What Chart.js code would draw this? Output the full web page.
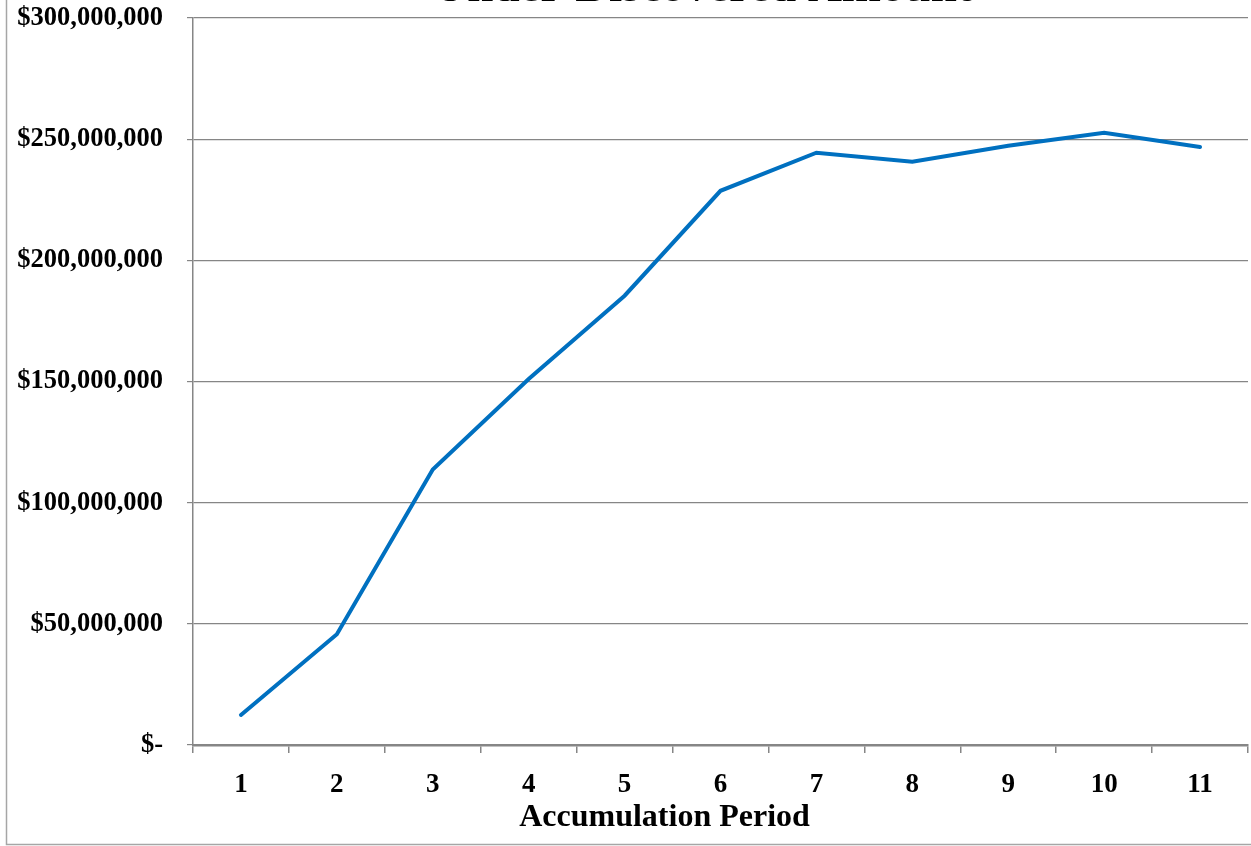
<!DOCTYPE html>
<html>
<head>
<meta charset="utf-8">
<title>Under-Discovered Amount</title>
<script src="https://cdn.jsdelivr.net/npm/chart.js@4/dist/chart.umd.min.js"></script>
<style>
  html, body { margin: 0; padding: 0; background: #ffffff; overflow: hidden; }
  #wrap { position: absolute; left: 0; top: -60px; width: 1251px; height: 906px; }
</style>
</head>
<body>
<div id="wrap"><canvas id="chart"></canvas></div>
<script>
// Accumulation periods and the under-discovered dollar amount for each
const periods = ['1', '2', '3', '4', '5', '6', '7', '8', '9', '10', '11'];
const amounts = [12400000, 45700000, 113700000, 151000000, 185400000, 228700000,
                 244400000, 240700000, 247300000, 252600000, 246800000];

const chartTitle = 'Under-Discovered Amount';
const xAxisTitle = 'Accumulation Period';
const yMin = 0;
const yMax = 300000000;
const yStep = 50000000;

const serif = "'Liberation Serif', 'Times New Roman', serif";
const axisGray = '#868686';

// Trailing spaces nudge centred titles left of the plot-area centre
const nbsp = (n) => '\u00a0'.repeat(n);
const enSp = (n) => '\u2002'.repeat(n);

// Thin frame around the whole chart object
const framePlugin = {
  id: 'frame',
  afterDraw(chart) {
    const ctx = chart.ctx;
    ctx.save();
    ctx.strokeStyle = '#a6a6a6';
    ctx.lineWidth = 1.5;
    ctx.beginPath();
    ctx.moveTo(6.5, 0);
    ctx.lineTo(6.5, 904.5);
    ctx.lineTo(chart.width + 5, 904.5);
    ctx.stroke();
    ctx.restore();
  }
};

function money(v) {
  if (v === 0) return '$-';
  return '$' + v.toLocaleString('en-US');
}

new Chart(document.getElementById('chart'), {
  type: 'line',
  data: {
    labels: periods,
    datasets: [{
      data: amounts,
      borderColor: '#0070C0',
      borderWidth: 4,
      pointRadius: 0,
      tension: 0,
      fill: false,
      borderCapStyle: 'round'
    }]
  },
  options: {
    responsive: true,
    maintainAspectRatio: false,
    animation: false,
    layout: { padding: { left: 0, right: 3, top: 0, bottom: 0 } },
    plugins: {
      legend: { display: false },
      tooltip: { enabled: false },
      title: {
        display: true,
        text: chartTitle + nbsp(3),
        fullSize: false,
        color: '#000000',
        font: { family: serif, size: 47, weight: 'bold', lineHeight: 1.0 },
        padding: { top: 25, bottom: 6 }
      }
    },
    scales: {
      x: {
        type: 'category',
        offset: true,
        afterFit(scale) { scale.height = 101; },
        grid: {
          offset: true,
          drawOnChartArea: false,
          drawTicks: true,
          tickLength: 8,
          color: axisGray,
          lineWidth: 1.5
        },
        border: { color: axisGray, width: 2.5 },
        ticks: {
          color: '#000000',
          padding: 16,
          maxRotation: 0,
          font: { family: serif, size: 27, weight: 'bold' }
        },
        title: {
          display: true,
          text: xAxisTitle + enSp(7),
          color: '#000000',
          font: { family: serif, size: 32, weight: 'bold', lineHeight: 1.2 },
          padding: { top: 0, bottom: 9 }
        }
      },
      y: {
        min: yMin,
        max: yMax,
        afterFit(scale) { scale.width = 193; },
        grid: {
          color: axisGray,
          lineWidth: 1.2,
          drawTicks: true,
          tickLength: 6
        },
        border: { color: axisGray, width: 1.5 },
        ticks: {
          stepSize: yStep,
          color: '#000000',
          padding: 24,
          font: { family: serif, size: 26.5, weight: 'bold' },
          callback: (v) => money(v)
        }
      }
    }
  },
  plugins: [framePlugin]
});
</script>
</body>
</html>
